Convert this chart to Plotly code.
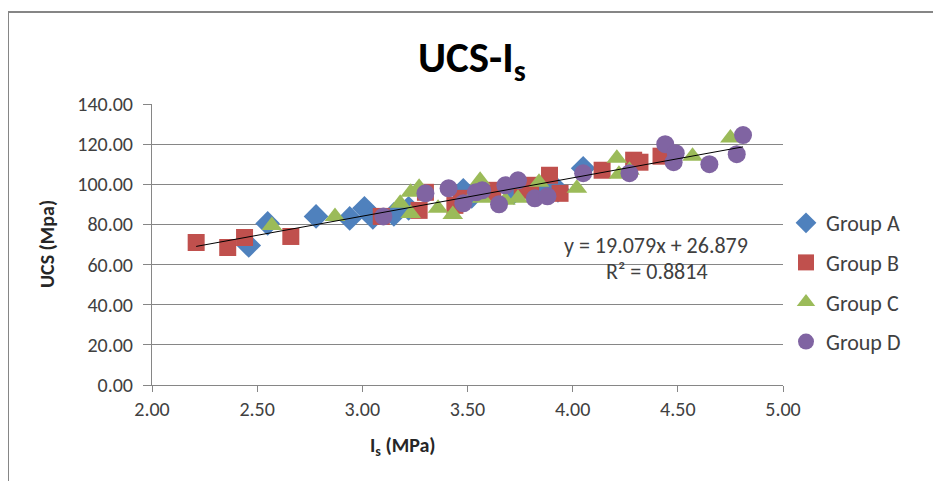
import plotly.graph_objects as go

# ---- data ----
group_a_x = [2.46, 2.55, 2.78, 2.94, 3.01, 3.05, 3.15, 3.22, 3.48, 3.52, 3.72, 3.83, 3.87, 3.93, 4.05]
group_a_y = [69.5, 80.5, 84.0, 83.0, 88.0, 83.5, 85.0, 88.0, 97.0, 94.0, 96.0, 95.5, 100.0, 97.0, 108.0]

group_b_x = [2.21, 2.36, 2.44, 2.66, 3.09, 3.27, 3.30, 3.44, 3.47, 3.60, 3.62, 3.76, 3.80, 3.89, 3.94, 4.14, 4.29, 4.32, 4.42]
group_b_y = [71.0, 68.5, 73.5, 74.0, 84.0, 87.0, 96.0, 89.5, 93.0, 97.0, 96.0, 97.0, 99.5, 104.5, 95.5, 107.0, 112.0, 111.0, 114.0]

group_c_x = [2.57, 2.87, 3.18, 3.23, 3.23, 3.27, 3.36, 3.43, 3.53, 3.56, 3.57, 3.68, 3.74, 3.84, 4.02, 4.21, 4.22, 4.27, 4.57, 4.75]
group_c_y = [79.5, 84.0, 90.5, 96.0, 85.5, 98.5, 88.0, 85.0, 95.0, 102.0, 93.0, 92.0, 93.0, 101.0, 98.0, 113.0, 105.0, 107.0, 114.0, 123.0]

group_d_x = [3.10, 3.30, 3.41, 3.48, 3.54, 3.57, 3.65, 3.68, 3.74, 3.82, 3.88, 4.05, 4.27, 4.44, 4.48, 4.49, 4.65, 4.78, 4.81]
group_d_y = [84.0, 95.5, 98.0, 90.5, 96.0, 97.0, 90.0, 99.5, 102.0, 93.0, 94.0, 105.5, 105.5, 120.0, 111.0, 115.5, 110.0, 115.0, 124.5]

group_names = ["Group A", "Group B", "Group C", "Group D"]
trend_slope = 19.079
trend_intercept = 26.879
trend_r2 = 0.8814

x_ticks = [2.0, 2.5, 3.0, 3.5, 4.0, 4.5, 5.0]
y_ticks = [0, 20, 40, 60, 80, 100, 120, 140]

# ---- styling ----
FONT = "Carlito, Lato, 'Open Sans', sans-serif"
colors = ["#4F81BD", "#C0504D", "#9BBB59", "#8064A2"]
symbols = ["diamond", "square", "triangle-up", "circle"]
sizes = [19, 17, 18, 18]

# page body has an 8px margin: work in screen pixels, convert to figure pixels
OFF = 8
FW, FH = 941 - OFF, 481 - OFF
L, R, T, B = 152 - OFF, 783 - OFF, 104 - OFF, 385 - OFF
W, H = R - L, B - T


def px_x(p):
    return (p - OFF - L) / W


def px_y(p):
    return (B - (p - OFF)) / H


series = [(group_a_x, group_a_y), (group_b_x, group_b_y),
          (group_c_x, group_c_y), (group_d_x, group_d_y)]

fig = go.Figure()
for i, (xs, ys) in enumerate(series):
    fig.add_trace(go.Scatter(
        x=xs, y=ys, mode="markers", name=group_names[i],
        legendgroup=group_names[i],
        marker=dict(symbol=symbols[i], color=colors[i], size=sizes[i],
                    line=dict(width=0)),
    ))

all_x = group_a_x + group_b_x + group_c_x + group_d_x
tx = [min(all_x), max(all_x)]
ty = [trend_slope * v + trend_intercept for v in tx]
fig.add_trace(go.Scatter(x=tx, y=ty, mode="lines", showlegend=False,
                         line=dict(color="black", width=1), hoverinfo="skip"))

fig.update_layout(
    width=FW, height=FH,
    margin=dict(l=L, r=FW - R, t=T, b=FH - B, autoexpand=False),
    paper_bgcolor="white", plot_bgcolor="white",
    font=dict(family=FONT, size=20, color="#404040"),
    legend=dict(x=px_x(786), y=px_y(202), xanchor="left", yanchor="top",
                font=dict(size=22, color="#404040"), tracegroupgap=8,
                bgcolor="rgba(0,0,0,0)", itemwidth=30),
    showlegend=True,
)

fig.update_xaxes(
    range=[2.0, 5.0], tickvals=x_ticks, tickformat=".2f",
    showgrid=False, zeroline=False, showline=True, linecolor="#868686",
    ticks="outside", ticklen=6, tickcolor="#868686", automargin=False,
    tickfont=dict(size=20),
)
fig.update_yaxes(
    range=[0, 140], tickvals=y_ticks, tickformat=".2f",
    showgrid=True, gridcolor="#868686", gridwidth=1, zeroline=False,
    showline=True, linecolor="#868686", automargin=False,
    ticks="outside", ticklen=8, tickcolor="#868686",
    ticklabelstandoff=6,
    tickfont=dict(size=20),
)


def label(text, x, y, size, color, angle=0):
    fig.add_annotation(x=px_x(x), y=px_y(y), xref="paper", yref="paper",
                       xanchor="center", yanchor="middle", text=text,
                       showarrow=False, textangle=angle,
                       font=dict(size=size, color=color))


# title
label("<b>UCS-I<sub>s</sub></b>", 472, 60, 43, "black")
# axis titles
label("<b>I<sub>s</sub> (MPa)</b>", 403, 446, 20, "#262626")
label("<b>UCS (Mpa)</b>", 47, 244, 20, "#262626", angle=-90)
# trendline labels
label(f"y = {trend_slope}x + {trend_intercept}", 656, 245, 22, "#404040")
label(f"R² = {trend_r2}", 657, 271, 22, "#404040")

# chart outer border
fig.add_shape(type="rect", xref="paper", yref="paper",
              x0=px_x(8), x1=2.0, y0=-1.0, y1=px_y(12),
              line=dict(color="#868686", width=2), fillcolor="rgba(0,0,0,0)")

fig.write_html("out.html")
